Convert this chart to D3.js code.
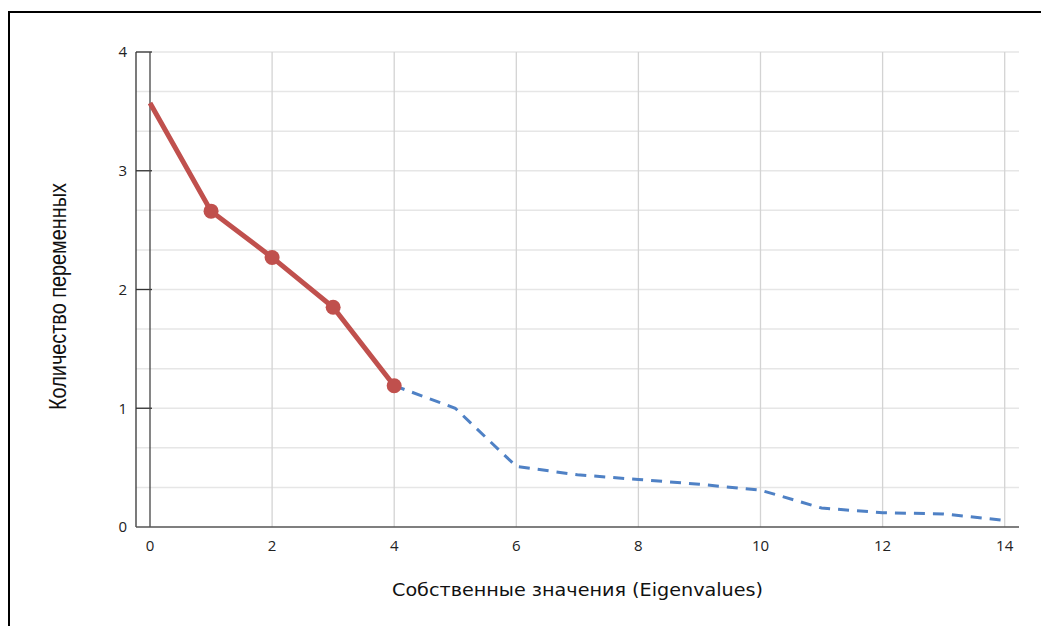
<!DOCTYPE html>
<html><head><meta charset="utf-8">
<script src="https://cdn.jsdelivr.net/npm/d3@7"></script>
<style>
html,body{margin:0;padding:0;background:#fff;}
svg{display:block;}
</style></head>
<body>
<script>
const xTicks = [0, 2, 4, 6, 8, 10, 12, 14];
const yTicks = [0, 1, 2, 3, 4];
const retainedX = [0, 1, 2, 3, 4];
const retainedY = [3.57, 2.66, 2.27, 1.85, 1.19];
const droppedX = [4, 5, 6, 7, 8, 9, 10, 11, 12, 13, 14];
const droppedY = [1.19, 1.0, 0.51, 0.44, 0.40, 0.36, 0.31, 0.16, 0.12, 0.11, 0.055];
const xTitle = "Собственные значения (Eigenvalues)";
const yTitle = "Количество переменных";

const W = 1041, H = 626;
const svg = d3.select("body").append("svg").attr("width", W).attr("height", H);

const x = d3.scaleLinear().domain([0, 14]).range([150, 1004.7]);
const y = d3.scaleLinear().domain([0, 4]).range([527, 52]);
const left = 136, right = 1019;

// outer frame
svg.append("path").attr("d", `M9,${H} L9,12 L${W},12`).attr("fill", "none")
  .attr("stroke", "#000").attr("stroke-width", 2);

// horizontal gridlines every 1/3
const minor = d3.range(0, 13).map(i => i / 3);
svg.append("g").selectAll("line").data(minor.filter(v => v > 0)).join("line")
  .attr("x1", left).attr("x2", right)
  .attr("y1", d => y(d)).attr("y2", d => y(d))
  .attr("stroke", "#e6e6e6").attr("stroke-width", 1.5);

// vertical gridlines
svg.append("g").selectAll("line").data(xTicks.filter(v => v > 0)).join("line")
  .attr("x1", d => x(d)).attr("x2", d => x(d))
  .attr("y1", y(4)).attr("y2", y(0))
  .attr("stroke", "#d3d3d3").attr("stroke-width", 1.3);

// y axis line and ticks
svg.append("line").attr("x1", left).attr("x2", left).attr("y1", y(4)).attr("y2", y(0))
  .attr("stroke", "#333").attr("stroke-width", 1.3);
svg.append("g").selectAll("line").data(yTicks.filter(v => v > 0)).join("line")
  .attr("x1", left).attr("x2", left + 16)
  .attr("y1", d => y(d)).attr("y2", d => y(d))
  .attr("stroke", "#333").attr("stroke-width", 1.3);
// x=0 line
svg.append("line").attr("x1", x(0)).attr("x2", x(0)).attr("y1", y(4)).attr("y2", y(0))
  .attr("stroke", "#444").attr("stroke-width", 1.3);
// baseline
svg.append("line").attr("x1", left).attr("x2", right).attr("y1", y(0)).attr("y2", y(0))
  .attr("stroke", "#555").attr("stroke-width", 1.5);

// tick labels
const tickFont = "'Open Sans', sans-serif";
svg.append("g").selectAll("text").data(yTicks).join("text")
  .attr("x", 127).attr("y", d => y(d)).attr("dy", "0.35em")
  .attr("text-anchor", "end").attr("font-family", tickFont).attr("font-size", 15)
  .attr("fill", "#222").text(d => d);
svg.append("g").selectAll("text").data(xTicks).join("text")
  .attr("x", d => x(d)).attr("y", 551)
  .attr("text-anchor", "middle").attr("font-family", tickFont).attr("font-size", 15)
  .attr("fill", "#222").text(d => d);

// titles
svg.append("text").attr("x", 392).attr("y", 596)
  .attr("font-family", "'DejaVu Sans', sans-serif").attr("font-size", 17)
  .attr("textLength", 371).attr("lengthAdjust", "spacingAndGlyphs")
  .attr("fill", "#111").text(xTitle);
svg.append("text").attr("transform", "translate(66,410) rotate(-90)")
  .attr("font-family", "'Liberation Sans', Arial, sans-serif").attr("font-size", 23)
  .attr("textLength", 227).attr("lengthAdjust", "spacingAndGlyphs")
  .attr("fill", "#111").text(yTitle);

// lines
const line = d3.line().x(d => x(d[0])).y(d => y(d[1]));
svg.append("path").datum(droppedX.map((v, i) => [v, droppedY[i]]))
  .attr("d", line).attr("fill", "none").attr("stroke", "#4f81c5")
  .attr("stroke-width", 3).attr("stroke-dasharray", "11,8");
svg.append("path").datum(retainedX.map((v, i) => [v, retainedY[i]]))
  .attr("d", line).attr("fill", "none").attr("stroke", "#c0504d")
  .attr("stroke-width", 5);
svg.append("g").selectAll("circle").data(retainedX.slice(1).map((v, i) => [v, retainedY[i + 1]]))
  .join("circle").attr("cx", d => x(d[0])).attr("cy", d => y(d[1])).attr("r", 7.5)
  .attr("fill", "#c0504d");
</script>
</body></html>
